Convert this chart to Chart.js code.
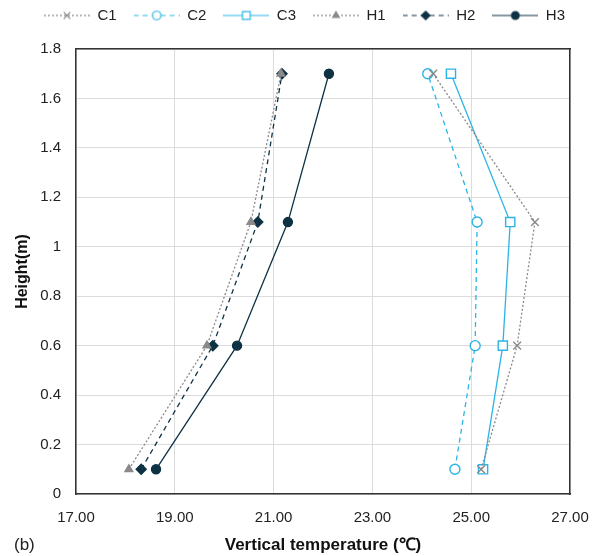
<!DOCTYPE html>
<html lang="en">
  <head>
    <meta charset="UTF-8" />
    <title>Vertical temperature (b)</title>
    <style>
      body {
        margin: 0;
        background: #ffffff;
        font-family: "Liberation Sans", Arial, sans-serif;
      }
      .wrap {
        position: relative;
        width: 592px;
        height: 556px;
      }
      .panel-tag {
        position: absolute;
        left: 14px;
        top: 535px;
        font-size: 17px;
        color: #222;
      }
    </style>
  </head>
  <body>
    <div class="wrap">
      <canvas id="tempChart" width="592" height="556"></canvas>
      <div class="panel-tag">(b)</div>
    </div>

    <script src="https://cdn.jsdelivr.net/npm/chart.js"></script>
    <script>
      // heights (m) of the four measuring points
      const heights = [0.1, 0.6, 1.1, 1.7];

      // temperatures (°C) at each height
      const c1 = [25.2, 25.93, 26.29, 24.23];
      const c2 = [24.67, 25.08, 25.12, 24.12];
      const c3 = [25.24, 25.64, 25.79, 24.59];
      const h1 = [18.07, 19.65, 20.54, 21.15];
      const h2 = [18.32, 19.77, 20.68, 21.17];
      const h3 = [18.62, 20.26, 21.29, 22.12];

      const xTicks = [17, 19, 21, 23, 25, 27];

      const blue = "#2bb5e6";
      const navy = "#0e3244";
      const grey = "#8a8a8a";

      function series(label, temps, color, dash, style, radius, filled) {
        return {
          label: label,
          data: temps.map((t, i) => ({ x: t, y: heights[i] })),
          showLine: true,
          borderColor: color,
          borderWidth: 1.3,
          borderDash: dash,
          pointStyle: style,
          pointRadius: radius,
          pointHoverRadius: radius,
          pointBorderWidth: 1.4,
          pointBorderColor: color,
          pointBackgroundColor: filled ? color : "#ffffff",
        };
      }

      const datasets = [
        series("C1", c1, grey, [2, 2], "crossRot", 5.5, false),
        series("C2", c2, blue, [5, 4], "circle", 5, false),
        series("C3", c3, blue, [], "rect", 6.5, false),
        series("H1", h1, grey, [2, 2], "triangle", 4.5, true),
        series("H2", h2, navy, [5, 4], "rectRot", 5, true),
        series("H3", h3, navy, [], "circle", 4.5, true),
      ];

      // little line + marker swatch for each legend entry
      function swatch(ds) {
        const c = document.createElement("canvas");
        c.width = 46;
        c.height = 14;
        const ctx = c.getContext("2d");
        ctx.strokeStyle = ds.borderColor;
        ctx.lineWidth = 1.2;
        ctx.setLineDash(ds.borderDash);
        ctx.beginPath();
        ctx.moveTo(0, 7);
        ctx.lineTo(46, 7);
        ctx.stroke();
        ctx.setLineDash([]);
        ctx.fillStyle = ds.pointBackgroundColor;
        ctx.strokeStyle = ds.pointBorderColor;
        Chart.helpers.drawPoint(
          ctx,
          { pointStyle: ds.pointStyle, radius: ds.pointRadius * 0.85, rotation: 0, borderWidth: 1.2 },
          23,
          7
        );
        return c;
      }

      // nudge the legend a bit to the right, like the original figure
      const legendShift = {
        id: "legendShift",
        afterLayout(chart) {
          chart.legend.left += 15;
          chart.legend.right += 15;
        },
      };

      const config = {
        type: "scatter",
        data: { datasets: datasets },
        plugins: [legendShift],
        options: {
          responsive: false,
          animation: false,
          layout: { padding: { top: -9, left: 9, right: 22, bottom: 0 } },
          plugins: {
            tooltip: { enabled: false },
            legend: {
              position: "top",
              labels: {
                usePointStyle: true,
                pointStyleWidth: 46,
                padding: 17,
                color: "#222",
                font: { family: "Liberation Sans", size: 15 },
                generateLabels: (chart) =>
                  chart.data.datasets.map((ds, i) => ({
                    text: ds.label,
                    pointStyle: swatch(ds),
                    datasetIndex: i,
                    fontColor: "#222",
                    lineWidth: 0,
                    strokeStyle: "transparent",
                    fillStyle: "transparent",
                  })),
              },
            },
          },
          scales: {
            x: {
              type: "linear",
              min: 17,
              max: 27,
              afterBuildTicks: (axis) => {
                axis.ticks = xTicks.map((v) => ({ value: v }));
              },
              afterFit: (axis) => {
                axis.height = 62;
                axis.paddingLeft = 0;
                axis.paddingRight = 0;
              },
              ticks: {
                padding: 15,
                color: "#222",
                font: { family: "Liberation Sans", size: 15 },
                callback: (v) => Number(v).toFixed(2),
              },
              grid: { color: "#dcdcdc", drawTicks: false },
              border: { color: "#333", width: 1.5 },
              title: {
                display: true,
                text: "Vertical temperature (℃)",
                color: "#111",
                font: { family: "Liberation Sans", size: 17, weight: "bold" },
                padding: { top: 0, bottom: 0 },
              },
            },
            y: {
              min: 0,
              max: 1.8,
              afterFit: (axis) => {
                axis.width = 67;
              },
              ticks: {
                stepSize: 0.2,
                padding: 15,
                color: "#222",
                font: { family: "Liberation Sans", size: 15 },
                callback: (v) => String(Number(v.toFixed(1))),
              },
              grid: { color: "#dcdcdc", drawTicks: false },
              border: { color: "#333", width: 1.5 },
              title: {
                display: true,
                text: "Height(m)",
                color: "#111",
                font: { family: "Liberation Sans", size: 16, weight: "bold" },
                padding: { top: 4, bottom: 4 },
              },
            },
            xTop: {
              type: "linear",
              position: "top",
              min: 17,
              max: 27,
              afterFit: (axis) => {
                axis.height = 16;
              },
              ticks: { display: false },
              grid: { display: false },
              border: { color: "#333", width: 1.5 },
            },
            yRight: {
              type: "linear",
              position: "right",
              min: 0,
              max: 1.8,
              afterFit: (axis) => {
                axis.width = 0;
              },
              ticks: { display: false },
              grid: { display: false },
              border: { color: "#333", width: 1.5 },
            },
          },
        },
      };

      new Chart(document.getElementById("tempChart"), config);
    </script>
  </body>
</html>
